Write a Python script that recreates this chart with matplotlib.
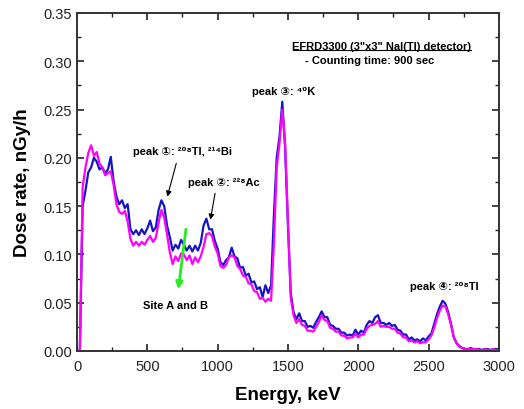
import matplotlib
matplotlib.use("Agg")
import matplotlib.pyplot as plt
from matplotlib.ticker import MultipleLocator

plt.rcParams['font.family'] = ['Liberation Sans', 'DejaVu Sans']

energy_keV = list(range(0, 3001, 20))

site_a = [
    0.000, 0.000, 0.150, 0.166, 0.185, 0.190, 0.200, 0.196, 0.188, 0.190,
    0.184, 0.188, 0.201, 0.176, 0.160, 0.152, 0.156, 0.148, 0.152, 0.126,
    0.121, 0.125, 0.120, 0.126, 0.121, 0.127, 0.135, 0.124, 0.128, 0.146,
    0.156, 0.150, 0.130, 0.118, 0.104, 0.110, 0.106, 0.115, 0.110, 0.104,
    0.109, 0.103, 0.109, 0.104, 0.112, 0.130, 0.137, 0.126, 0.126, 0.114,
    0.106, 0.092, 0.089, 0.094, 0.097, 0.107, 0.098, 0.096, 0.086, 0.087,
    0.078, 0.080, 0.071, 0.072, 0.064, 0.066, 0.056, 0.068, 0.060, 0.068,
    0.140, 0.200, 0.222, 0.258, 0.210, 0.130, 0.060, 0.040, 0.033, 0.039,
    0.031, 0.031, 0.025, 0.026, 0.024, 0.030, 0.035, 0.041, 0.035, 0.035,
    0.027, 0.026, 0.023, 0.023, 0.019, 0.019, 0.016, 0.017, 0.016, 0.022,
    0.017, 0.021, 0.019, 0.027, 0.031, 0.029, 0.035, 0.037, 0.029, 0.029,
    0.027, 0.029, 0.026, 0.027, 0.022, 0.021, 0.017, 0.017, 0.012, 0.014,
    0.011, 0.012, 0.010, 0.013, 0.011, 0.015, 0.018, 0.028, 0.038, 0.046,
    0.052, 0.049, 0.040, 0.028, 0.014, 0.008, 0.005, 0.003, 0.002, 0.002,
    0.003, 0.002, 0.002, 0.002, 0.001, 0.002, 0.002, 0.001, 0.002, 0.002,
    0.002,
]

site_b = [
    0.000, 0.000, 0.170, 0.190, 0.205, 0.213, 0.202, 0.206, 0.194, 0.190,
    0.182, 0.184, 0.186, 0.172, 0.152, 0.144, 0.142, 0.145, 0.134, 0.116,
    0.109, 0.113, 0.109, 0.113, 0.110, 0.115, 0.119, 0.113, 0.117, 0.133,
    0.146, 0.138, 0.121, 0.102, 0.090, 0.098, 0.093, 0.101, 0.100, 0.094,
    0.099, 0.090, 0.097, 0.092, 0.098, 0.108, 0.121, 0.122, 0.119, 0.108,
    0.101, 0.088, 0.086, 0.089, 0.097, 0.099, 0.097, 0.088, 0.085, 0.078,
    0.077, 0.070, 0.069, 0.062, 0.061, 0.054, 0.055, 0.051, 0.054, 0.052,
    0.110, 0.190, 0.215, 0.250, 0.215, 0.135, 0.055, 0.037, 0.029, 0.033,
    0.027, 0.026, 0.021, 0.021, 0.020, 0.025, 0.030, 0.037, 0.032, 0.031,
    0.024, 0.023, 0.020, 0.020, 0.016, 0.016, 0.013, 0.014, 0.014, 0.018,
    0.014, 0.017, 0.017, 0.023, 0.026, 0.027, 0.028, 0.031, 0.025, 0.026,
    0.025, 0.025, 0.023, 0.023, 0.019, 0.018, 0.014, 0.014, 0.010, 0.011,
    0.009, 0.010, 0.008, 0.009, 0.009, 0.012, 0.016, 0.024, 0.034, 0.042,
    0.047, 0.046, 0.038, 0.027, 0.014, 0.008, 0.004, 0.003, 0.002, 0.002,
    0.002, 0.002, 0.002, 0.001, 0.001, 0.002, 0.001, 0.001, 0.002, 0.001,
    0.001,
]

fig = plt.figure(figsize=(5.24, 4.10), dpi=100)
ax = fig.add_axes([0.147, 0.1415, 0.805, 0.8245])

ax.plot(energy_keV, site_a, color='#1414c8', lw=1.6)
ax.plot(energy_keV, site_b, color='#ff00ff', lw=1.6)

ax.set_xlim(0, 3000)
ax.set_ylim(0, 0.35)
ax.xaxis.set_major_locator(MultipleLocator(500))
ax.xaxis.set_minor_locator(MultipleLocator(250))
ax.yaxis.set_major_locator(MultipleLocator(0.05))
ax.yaxis.set_minor_locator(MultipleLocator(0.025))
ax.yaxis.set_major_formatter(plt.FuncFormatter(lambda v, p: f"{v:.2f}"))
ax.tick_params(which='both', direction='in', top=True, right=True, labelsize=10.5, colors='#222222')
ax.tick_params(which='major', length=5, width=1.2)
ax.tick_params(which='minor', length=3, width=1.0)
ax.tick_params(axis='x', pad=6)
for s in ax.spines.values():
    s.set_linewidth(1.4)
    s.set_color('#333333')

ax.set_xlabel('Energy, keV', fontsize=13.5, fontweight='bold', labelpad=9)
ax.set_ylabel('Dose rate, nGy/h', fontsize=13.5, fontweight='bold', labelpad=9)

fb = ['Liberation Sans', 'DejaVu Sans']
kw = dict(fontsize=8, fontweight='bold', va='center', family=fb)
ax.text(2168, 0.316, 'EFRD3300 (3"x3" NaI(Tl) detector)', ha='center', **kw)
ax.plot([1535, 2802], [0.3115, 0.3115], color='black', lw=0.8)
ax.text(1620, 0.301, '- Counting time: 900 sec', ha='left', **kw)
ax.text(1245, 0.269, 'peak \u2462: \u2074\u2070K', ha='left', **kw)
ax.text(400, 0.207, 'peak \u2460: \u00b2\u2070\u2078Tl, \u00b2\u00b9\u2074Bi', ha='left', **kw)
ax.text(790, 0.175, 'peak \u2461: \u00b2\u00b2\u2078Ac', ha='left', **kw)
ax.text(2370, 0.067, 'peak \u2463: \u00b2\u2070\u2078Tl', ha='left', **kw)
ax.text(697, 0.048, 'Site A and B', ha='center', **kw)

ax.annotate('', xy=(637, 0.157), xytext=(711, 0.197),
            arrowprops=dict(arrowstyle='-|>', color='black', lw=0.8, mutation_scale=8))
ax.annotate('', xy=(945, 0.133), xytext=(985, 0.166),
            arrowprops=dict(arrowstyle='-|>', color='black', lw=0.8, mutation_scale=8))
ax.annotate('', xy=(718, 0.061), xytext=(777, 0.129),
            arrowprops=dict(arrowstyle='-|>', color='#22ee22', lw=2.0, mutation_scale=10))

fig.savefig('out.png', dpi=100)
